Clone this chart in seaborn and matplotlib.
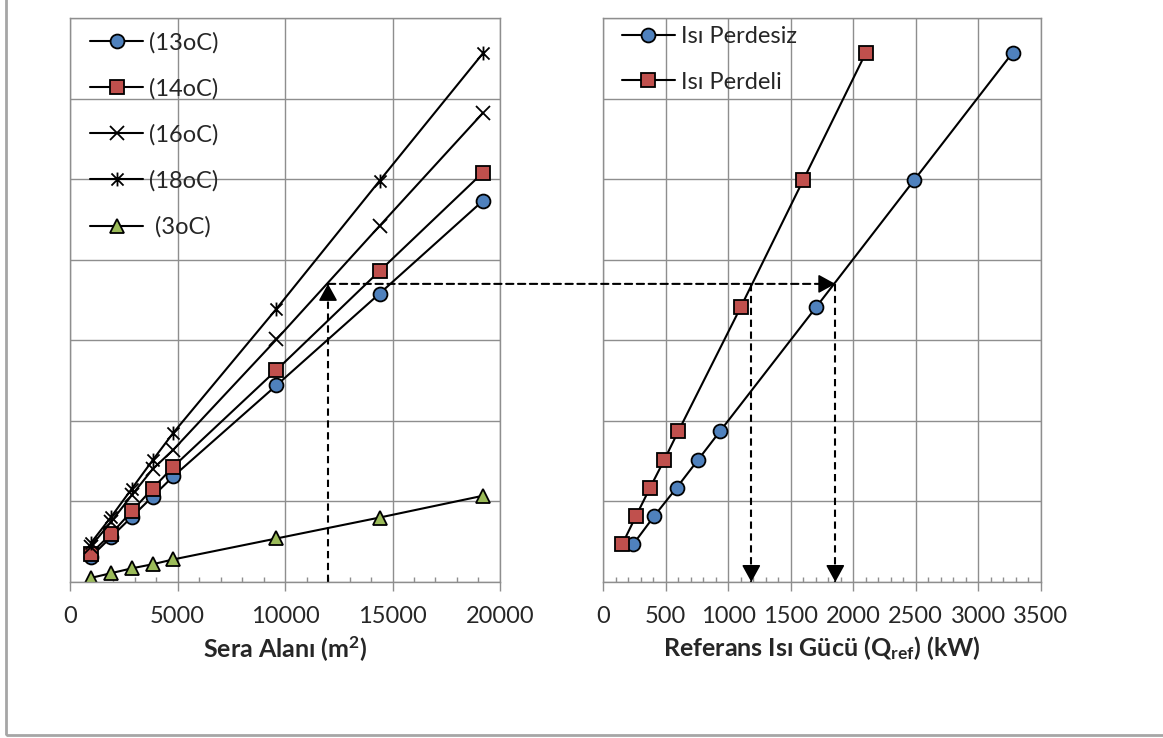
import numpy as np
import matplotlib
matplotlib.use('Agg')
import matplotlib.pyplot as plt
from matplotlib.path import Path
from matplotlib.patches import ConnectionPatch, Rectangle
from matplotlib.ticker import MultipleLocator
import seaborn as sns

# greenhouse area (m2) and heat demand per indoor temperature
area = [960, 1920, 2880, 3840, 4800, 9600, 14400, 19200]
t13 = [31, 56, 81, 106, 131, 244, 358, 473]
t14 = [35, 60, 88, 116, 143, 263, 386, 508]
t16 = [44, 75, 108, 140, 164, 301, 442, 582]
t18 = [48, 81, 116, 151, 185, 339, 498, 656]
t3 = [5, 11, 17, 22, 28, 54, 80, 107]

# reference heat power (kW) with / without thermal screen
demand = [47, 82, 117, 151, 187, 341, 499, 657]
q_perdesiz = [240, 408, 587, 755, 933, 1702, 2488, 3275]
q_perdeli = [152, 262, 374, 486, 600, 1099, 1600, 2101]

# worked example shown with dashed arrows
ex_area = 12000
ex_level = 370
ex_q = [1184, 1856]

sns.set_theme(style='white')
plt.rcParams['font.family'] = ['Lato', 'DejaVu Sans']
plt.rcParams['mathtext.fontset'] = 'custom'
plt.rcParams['mathtext.rm'] = 'Lato:bold'
plt.rcParams['mathtext.it'] = 'Lato:bold'
plt.rcParams['mathtext.bf'] = 'Lato:bold'

GRID = '#8e8e8e'
FS = 17
BLUE, RED, GREEN = '#4F81BD', '#C0504D', '#9BBB59'

# excel style star marker: x with a vertical bar
star = Path([(-1, -1), (1, 1), (-1, 1), (1, -1), (0, -1.15), (0, 1.15)],
            [Path.MOVETO, Path.LINETO, Path.MOVETO, Path.LINETO, Path.MOVETO, Path.LINETO])

fig = plt.figure(figsize=(11.63, 7.38), dpi=100)
ax1 = fig.add_axes([70 / 1163, 1 - 582 / 738, 430 / 1163, 564 / 738])
ax2 = fig.add_axes([603.3 / 1163, 1 - 582 / 738, 437.5 / 1163, 564 / 738])

line_kw = dict(color='black', linewidth=1.5, markeredgecolor='black', markeredgewidth=1.3)
sns.lineplot(x=area, y=t13, ax=ax1, marker='o', markersize=10, markerfacecolor=BLUE, label='(13oC)', **line_kw)
sns.lineplot(x=area, y=t14, ax=ax1, marker='s', markersize=9.5, markerfacecolor=RED, label='(14oC)', **line_kw)
sns.lineplot(x=area, y=t16, ax=ax1, marker='x', markersize=9.5, label='(16oC)', **line_kw)
sns.lineplot(x=area, y=t18, ax=ax1, marker=star, markersize=10, label='(18oC)', **line_kw)
sns.lineplot(x=area, y=t3, ax=ax1, marker='^', markersize=10, markerfacecolor=GREEN, label=' (3oC)', **line_kw)

sns.lineplot(x=q_perdesiz, y=demand, ax=ax2, marker='o', markersize=10, markerfacecolor=BLUE, label='Isı Perdesiz', **line_kw)
sns.lineplot(x=q_perdeli, y=demand, ax=ax2, marker='s', markersize=9.5, markerfacecolor=RED, label='Isı Perdeli', **line_kw)

for ax, xmax, major, minor in [(ax1, 20000, 5000, 1000), (ax2, 3500, 500, 100)]:
    ax.set_xlim(0, xmax)
    ax.set_ylim(0, 700)
    ax.xaxis.set_major_locator(MultipleLocator(major))
    ax.xaxis.set_minor_locator(MultipleLocator(minor))
    ax.yaxis.set_major_locator(MultipleLocator(100))
    ax.grid(True, which='major', color=GRID, linewidth=1.0)
    ax.set_yticklabels([])
    ax.tick_params(axis='y', length=0)
    ax.tick_params(axis='x', which='major', direction='out', length=6.5, width=1.0,
                   color=GRID, labelsize=FS, pad=11, bottom=True)
    ax.tick_params(axis='x', which='minor', direction='in', length=3.5, width=1.0,
                   color=GRID, bottom=True)
    for sp in ax.spines.values():
        sp.set_color(GRID)
        sp.set_linewidth(1.0)
    ax.set_ylabel('')

ax1.set_xlabel('Sera Alanı (m$^{2}$)', fontsize=18, fontweight='bold', labelpad=5)
ax2.set_xlabel('Referans Isı Gücü (Q$_{ref}$) (kW)', fontsize=18, fontweight='bold', labelpad=5)

leg_kw = dict(loc='upper left', frameon=False, fontsize=FS, handlelength=2.25, handletextpad=0.25,
              labelspacing=1.04, borderpad=0, borderaxespad=0)
ax1.legend(bbox_to_anchor=(20 / 430, 1 - 14 / 564), **leg_kw)
ax2.legend(bbox_to_anchor=(18.4 / 437.5, 1 - 8 / 564), **leg_kw)

# dashed reading lines, solid arrow heads
dash_kw = dict(color='black', lw=1.5, linestyle=(0, (3.5, 2.2)))
head_kw = dict(arrowstyle='-|>,head_length=0.4,head_width=0.22', color='black', lw=1.2,
               shrinkA=0, shrinkB=0, mutation_scale=26)

ax1.plot([ex_area, ex_area], [0, ex_level], **dash_kw)
ax1.annotate('', xy=(ex_area, ex_level), xytext=(0, -11), textcoords='offset points',
             arrowprops=head_kw, annotation_clip=False)
con = ConnectionPatch(xyA=(ex_area, ex_level), coordsA=ax1.transData,
                      xyB=(ex_q[1], ex_level), coordsB=ax2.transData, **dash_kw)
fig.add_artist(con)
ax2.annotate('', xy=(ex_q[1], ex_level), xytext=(-11, 0), textcoords='offset points',
             arrowprops=head_kw, annotation_clip=False)
for q in ex_q:
    ax2.plot([q, q], [ex_level, 0], **dash_kw)
    ax2.annotate('', xy=(q, 0), xytext=(0, 11), textcoords='offset points',
                 arrowprops=head_kw, annotation_clip=False)

# outer chart border
fig.add_artist(Rectangle((6 / 1163, 1 - 735 / 738), 1.2, 1.2, transform=fig.transFigure,
                         fill=False, edgecolor='#a6a6a6', linewidth=2))

fig.savefig('out.png', dpi=100)
